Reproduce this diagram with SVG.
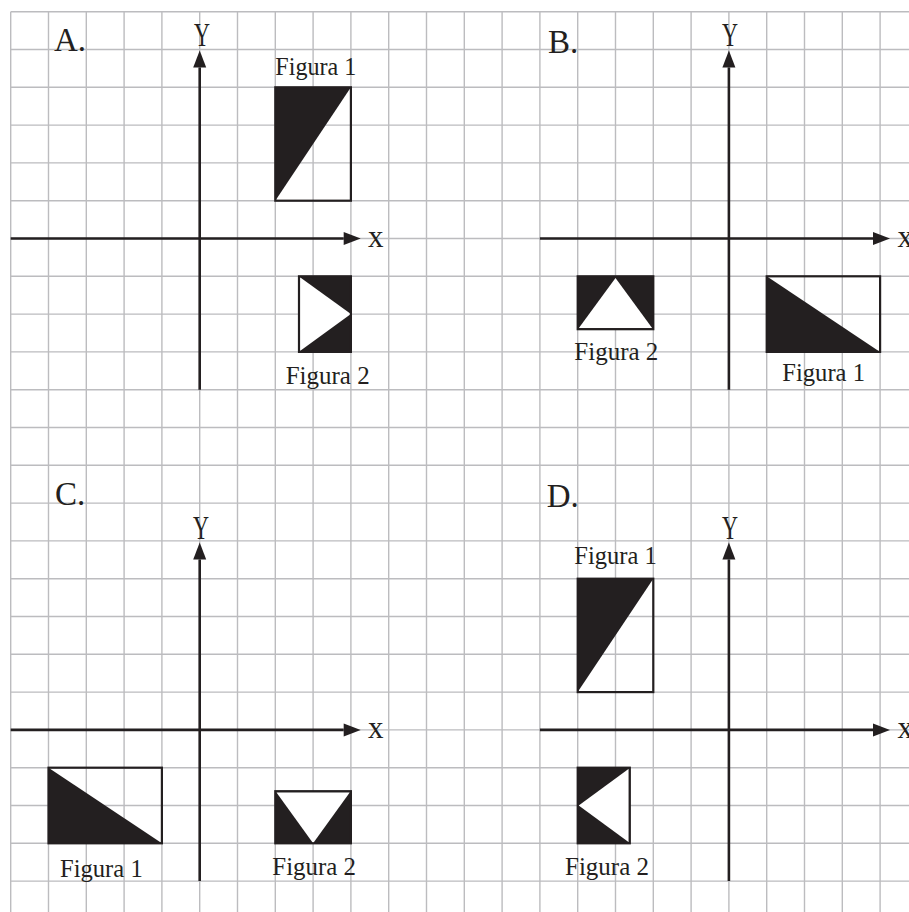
<svg xmlns="http://www.w3.org/2000/svg" width="909" height="912" viewBox="0 0 909 912">
<style>
.grid{stroke:#bcbcbf;stroke-width:1.4;fill:none}
.axis{stroke:#231f20;stroke-width:2.6;fill:none}
.blk{fill:#231f20}
.wht{fill:#ffffff}
.out{fill:none;stroke:#231f20;stroke-width:2.2}
.t{font-family:"Liberation Serif",serif;fill:#231f20}
.lab{font-size:26px}
.big{font-size:33px}
.ax{font-size:31px}
</style>
<defs>
<marker id="ah" markerUnits="userSpaceOnUse" markerWidth="18" markerHeight="14" refX="0" refY="7" orient="auto" overflow="visible">
<path d="M0,0.5 L17,7 L0,13.5 z" fill="#231f20"/>
</marker>
</defs>
<rect width="909" height="912" fill="#ffffff"/>
<g id="grid" class="grid">
<path d="M10.7,11.7V912M48.5,11.7V912M86.3,11.7V912M124.1,11.7V912M161.9,11.7V912M199.7,11.7V912M237.5,11.7V912M275.3,11.7V912M313.1,11.7V912M350.9,11.7V912M388.7,11.7V912M426.5,11.7V912M464.3,11.7V912M502.1,11.7V912M539.9,11.7V912M577.7,11.7V912M615.5,11.7V912M653.3,11.7V912M691.1,11.7V912M728.9,11.7V912M766.7,11.7V912M804.5,11.7V912M842.3,11.7V912M880.1,11.7V912"/>
<path d="M10.7,11.7H909M10.7,49.5H909M10.7,87.3H909M10.7,125.1H909M10.7,162.9H909M10.7,200.7H909M10.7,238.5H909M10.7,276.3H909M10.7,314.1H909M10.7,351.9H909M10.7,389.7H909M10.7,427.5H909M10.7,465.3H909M10.7,503.1H909M10.7,540.9H909M10.7,578.7H909M10.7,616.5H909M10.7,654.3H909M10.7,692.1H909M10.7,729.9H909M10.7,767.7H909M10.7,805.5H909M10.7,843.3H909M10.7,881.1H909"/>
</g>
<g id="axes" class="axis">
<line x1="10.7" y1="238.5" x2="343.7" y2="238.5" marker-end="url(#ah)"/>
<line x1="199.7" y1="389.7" x2="199.7" y2="67.5" marker-end="url(#ah)"/>
<line x1="539.9" y1="238.5" x2="873" y2="238.5" marker-end="url(#ah)"/>
<line x1="728.9" y1="389.7" x2="728.9" y2="67.5" marker-end="url(#ah)"/>
<line x1="10.7" y1="729.9" x2="343.7" y2="729.9" marker-end="url(#ah)"/>
<line x1="199.7" y1="881.1" x2="199.7" y2="559.5" marker-end="url(#ah)"/>
<line x1="539.9" y1="729.9" x2="873" y2="729.9" marker-end="url(#ah)"/>
<line x1="728.9" y1="881.1" x2="728.9" y2="559.5" marker-end="url(#ah)"/>
</g>
<g id="panelA">
<text class="t big" x="54" y="51">A.</text>
<text class="t big" x="202" y="46" text-anchor="middle" textLength="16" lengthAdjust="spacingAndGlyphs">Y</text>
<text class="t ax" x="368" y="247">x</text>
<g id="A-fig1">
<polygon class="blk" points="275.3,87.3 350.9,87.3 275.3,200.7"/>
<rect class="out" x="275.3" y="87.3" width="75.6" height="113.4"/>
<text class="t lab" x="275.3" y="75" textLength="81" lengthAdjust="spacingAndGlyphs">Figura 1</text>
</g>
<g id="A-fig2">
<rect class="blk" x="299" y="276.3" width="51.9" height="75.6"/>
<polygon class="wht" points="300,277.3 350.9,314.1 300,350.9"/>
<rect class="out" x="299" y="276.3" width="51.9" height="75.6"/>
<text class="t lab" x="285.7" y="384" textLength="84" lengthAdjust="spacingAndGlyphs">Figura 2</text>
</g>
</g>
<g id="panelB">
<text class="t big" x="548" y="53">B.</text>
<text class="t big" x="730" y="46" text-anchor="middle" textLength="16" lengthAdjust="spacingAndGlyphs">Y</text>
<text class="t ax" x="897.6" y="247">x</text>
<g id="B-fig2">
<rect class="blk" x="577.7" y="276.3" width="75.6" height="52.9"/>
<polygon class="wht" points="578.7,328.2 615.5,278 652.3,328.2"/>
<rect class="out" x="577.7" y="276.3" width="75.6" height="52.9"/>
<text class="t lab" x="574.3" y="359.5" textLength="84" lengthAdjust="spacingAndGlyphs">Figura 2</text>
</g>
<g id="B-fig1">
<polygon class="blk" points="766.7,276.3 766.7,351.9 880.1,351.9"/>
<rect class="out" x="766.7" y="276.3" width="113.4" height="75.6"/>
<text class="t lab" x="782.3" y="380.7" textLength="82.7" lengthAdjust="spacingAndGlyphs">Figura 1</text>
</g>
</g>
<g id="panelC">
<text class="t big" x="55" y="505">C.</text>
<text class="t big" x="201" y="539" text-anchor="middle" textLength="16" lengthAdjust="spacingAndGlyphs">Y</text>
<text class="t ax" x="368" y="738">x</text>
<g id="C-fig1">
<polygon class="blk" points="48.5,767.7 48.5,843.3 161.9,843.3"/>
<rect class="out" x="48.5" y="767.7" width="113.4" height="75.6"/>
<text class="t lab" x="60" y="876.7" textLength="82.7" lengthAdjust="spacingAndGlyphs">Figura 1</text>
</g>
<g id="C-fig2">
<rect class="blk" x="275.3" y="791.2" width="75.6" height="52.1"/>
<polygon class="wht" points="276.3,792.2 349.9,792.2 313.1,843.3"/>
<rect class="out" x="275.3" y="791.2" width="75.6" height="52.1"/>
<text class="t lab" x="272.3" y="875" textLength="83.7" lengthAdjust="spacingAndGlyphs">Figura 2</text>
</g>
</g>
<g id="panelD">
<text class="t big" x="546.7" y="506.5">D.</text>
<text class="t big" x="730" y="539" text-anchor="middle" textLength="16" lengthAdjust="spacingAndGlyphs">Y</text>
<text class="t ax" x="897.6" y="738">x</text>
<g id="D-fig1">
<polygon class="blk" points="577.7,578.7 653.3,578.7 577.7,692.1"/>
<rect class="out" x="577.7" y="578.7" width="75.6" height="113.4"/>
<text class="t lab" x="574.3" y="564" textLength="82.4" lengthAdjust="spacingAndGlyphs">Figura 1</text>
</g>
<g id="D-fig2">
<rect class="blk" x="577.7" y="767.7" width="52.1" height="75.6"/>
<polygon class="wht" points="628.8,768.7 628.8,842.3 578.7,805.5"/>
<rect class="out" x="577.7" y="767.7" width="52.1" height="75.6"/>
<text class="t lab" x="565" y="875" textLength="84" lengthAdjust="spacingAndGlyphs">Figura 2</text>
</g>
</g>
</svg>
